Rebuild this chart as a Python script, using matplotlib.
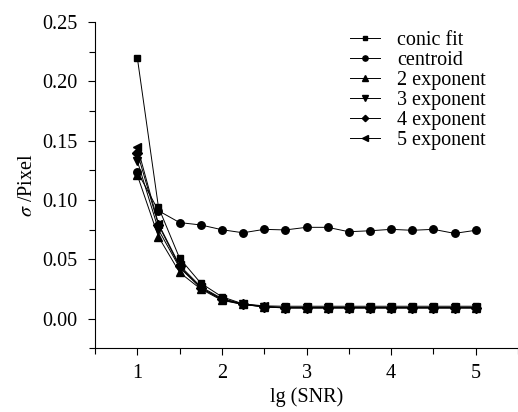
import numpy as np
import matplotlib
matplotlib.use("Agg")
import matplotlib.pyplot as plt

plt.rcParams['font.family'] = ['Liberation Serif', 'DejaVu Serif']
plt.rcParams['mathtext.fontset'] = 'stix'

# lg(SNR)
x = [1.0, 1.25, 1.5, 1.75, 2.0, 2.25, 2.5, 2.75, 3.0, 3.25, 3.5, 3.75, 4.0, 4.25, 4.5, 4.75, 5.0]

conic = [0.220, 0.094, 0.051, 0.030, 0.0185, 0.0125, 0.0108, 0.0105, 0.0105, 0.0105, 0.0105,
         0.0105, 0.0105, 0.0105, 0.0105, 0.0105, 0.0105]
centroid = [0.124, 0.091, 0.081, 0.079, 0.075, 0.0724, 0.0753, 0.0748, 0.0770, 0.0770, 0.0733,
            0.0741, 0.0753, 0.0745, 0.0753, 0.0719, 0.0745]
exp2 = [0.121, 0.069, 0.039, 0.025, 0.0155, 0.012, 0.0100, 0.0092, 0.0092, 0.0092, 0.0092,
        0.0092, 0.0092, 0.0092, 0.0092, 0.0092, 0.0092]
exp3 = [0.133, 0.075, 0.043, 0.026, 0.016, 0.012, 0.0100, 0.0090, 0.0090, 0.0090, 0.0090,
        0.0090, 0.0090, 0.0090, 0.0090, 0.0090, 0.0090]
exp4 = [0.140, 0.079, 0.044, 0.026, 0.0165, 0.0122, 0.0101, 0.0092, 0.0092, 0.0092, 0.0092,
        0.0092, 0.0092, 0.0092, 0.0092, 0.0092, 0.0092]
exp5 = [0.145, 0.080, 0.045, 0.027, 0.017, 0.0125, 0.0103, 0.0095, 0.0095, 0.0095, 0.0095,
        0.0095, 0.0095, 0.0095, 0.0095, 0.0095, 0.0095]

series = [
    (conic, 's', "conic fit"),
    (centroid, 'o', "centroid"),
    (exp2, '^', "2 exponent"),
    (exp3, 'v', "3 exponent"),
    (exp4, 'D', "4 exponent"),
    (exp5, '<', "5 exponent"),
]

fig = plt.figure(figsize=(5.18, 4.12), dpi=100)
ax = fig.add_axes([0.1834, 0.1544, 0.8166, 0.7922])

for ys, m, lab in series:
    ms = 4.6 if m in ('D', 's') else 5.4
    ax.plot(x, ys, color='black', linewidth=0.7, marker=m, markersize=ms, label=lab)

ax.set_xlim(0.5, 5.5)
ax.set_ylim(-0.025, 0.25)
ax.set_xticks([1, 2, 3, 4, 5])
ax.set_yticks([0.00, 0.05, 0.10, 0.15, 0.20, 0.25])
ax.set_yticklabels(["0.00", "0.05", "0.10", "0.15", "0.20", "0.25"])
ax.xaxis.set_minor_locator(plt.MultipleLocator(0.5))
ax.yaxis.set_minor_locator(plt.MultipleLocator(0.025))
ax.tick_params(axis='both', which='major', direction='out', length=5, width=0.8,
               labelsize=14.5)
ax.tick_params(axis='x', which='major', pad=6)
ax.tick_params(axis='y', which='major', pad=7.5)
ax.tick_params(axis='both', which='minor', direction='out', length=4, width=0.8)

ax.spines['top'].set_visible(False)
ax.spines['right'].set_visible(False)
ax.spines['left'].set_linewidth(0.8)
ax.spines['bottom'].set_linewidth(0.8)

ax.set_xlabel("lg (SNR)", fontsize=14.5, labelpad=3)
ax.set_ylabel(r"$\sigma$ /Pixel", fontsize=14.5, labelpad=4)

leg = ax.legend(loc='upper left', bbox_to_anchor=(350 / 518, 1 - 31 / 412),
                bbox_transform=fig.transFigure, frameon=False, fontsize=14.5,
                handlelength=1.5, handletextpad=0.85, labelspacing=0.04,
                borderpad=0, borderaxespad=0, markerscale=0.7)

fig.savefig("out.png", dpi=100)
